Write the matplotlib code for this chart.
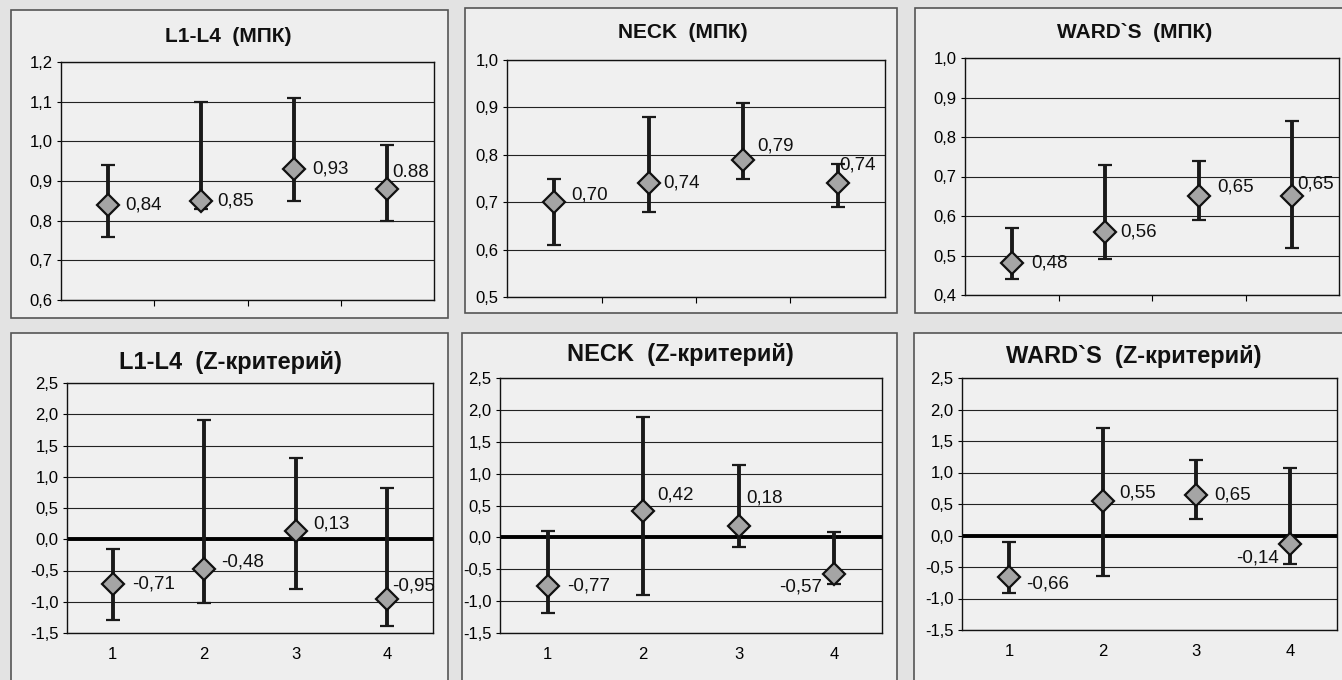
import matplotlib
matplotlib.use("Agg")
import matplotlib.pyplot as plt
from matplotlib.patches import Rectangle
from matplotlib.ticker import FuncFormatter

plt.rcParams['font.family'] = ['Liberation Sans', 'DejaVu Sans']

groups = [1, 2, 3, 4]

# МПК
l1l4_mean = [0.84, 0.85, 0.93, 0.88]
l1l4_low = [0.76, 0.83, 0.85, 0.80]
l1l4_high = [0.94, 1.10, 1.11, 0.99]
l1l4_labels = ['0,84', '0,85', '0,93', '0.88']

neck_mean = [0.70, 0.74, 0.79, 0.74]
neck_low = [0.61, 0.68, 0.75, 0.69]
neck_high = [0.75, 0.88, 0.91, 0.78]
neck_labels = ['0,70', '0,74', '0,79', '0,74']

ward_mean = [0.48, 0.56, 0.65, 0.65]
ward_low = [0.44, 0.49, 0.59, 0.52]
ward_high = [0.57, 0.73, 0.74, 0.84]
ward_labels = ['0,48', '0,56', '0,65', '0,65']

# Z-критерий
l1l4_z_mean = [-0.71, -0.48, 0.13, -0.95]
l1l4_z_low = [-1.29, -1.02, -0.80, -1.38]
l1l4_z_high = [-0.16, 1.91, 1.30, 0.82]
l1l4_z_labels = ['-0,71', '-0,48', '0,13', '-0,95']

neck_z_mean = [-0.77, 0.42, 0.18, -0.57]
neck_z_low = [-1.19, -0.91, -0.15, -0.73]
neck_z_high = [0.10, 1.89, 1.14, 0.09]
neck_z_labels = ['-0,77', '0,42', '0,18', '-0,57']

ward_z_mean = [-0.66, 0.55, 0.65, -0.14]
ward_z_low = [-0.92, -0.65, 0.26, -0.46]
ward_z_high = [-0.11, 1.70, 1.20, 1.07]
ward_z_labels = ['-0,66', '0,55', '0,65', '-0,14']

W, H = 1342, 680
fig = plt.figure(figsize=(W / 100, H / 100), dpi=100, facecolor='#e3e3e3')


def px_rect(x0, y0, x1, y1):
    return [x0 / W, 1 - y1 / H, (x1 - x0) / W, (y1 - y0) / H]


def comma(v, pos):
    return ('%.1f' % v).replace('.', ',')


panels = [
    dict(title='L1-L4  (МПК)', mean=l1l4_mean, low=l1l4_low, high=l1l4_high, labels=l1l4_labels,
         ylim=(0.6, 1.2), step=0.1, ax=(61, 62, 434, 300), frame=(11, 10, 448, 318), tpos=(228, 37),
         offs=[(18, 0, 'left'), (16, 0, 'left'), (18, 0, 'left'), (5, 16, 'left')], z=False),
    dict(title='NECK  (МПК)', mean=neck_mean, low=neck_low, high=neck_high, labels=neck_labels,
         ylim=(0.5, 1.0), step=0.1, ax=(507, 60, 885, 297), frame=(465, 8, 897, 313), tpos=(683, 32),
         offs=[(17, 7, 'left'), (14, 0, 'left'), (14, 14, 'left'), (2, 18, 'left')], z=False),
    dict(title='WARD`S  (МПК)', mean=ward_mean, low=ward_low, high=ward_high, labels=ward_labels,
         ylim=(0.4, 1.0), step=0.1, ax=(965, 58, 1339, 295), frame=(915, 8, 1350, 313), tpos=(1135, 32),
         offs=[(19, 0, 'left'), (15, 0, 'left'), (18, 9, 'left'), (5, 12, 'left')], z=False),
    dict(title='L1-L4  (Z-критерий)', mean=l1l4_z_mean, low=l1l4_z_low, high=l1l4_z_high, labels=l1l4_z_labels,
         ylim=(-1.5, 2.5), step=0.5, ax=(67, 383, 433, 633), frame=(11, 333, 448, 700), tpos=(230, 362),
         offs=[(19, 0, 'left'), (17, 7, 'left'), (18, 7, 'left'), (5, 13, 'left')], z=True),
    dict(title='NECK  (Z-критерий)', mean=neck_z_mean, low=neck_z_low, high=neck_z_high, labels=neck_z_labels,
         ylim=(-1.5, 2.5), step=0.5, ax=(500, 378, 882, 633), frame=(462, 333, 897, 700), tpos=(680, 355),
         offs=[(19, 0, 'left'), (14, 16, 'left'), (8, 28, 'left'), (-12, -13, 'right')], z=True),
    dict(title='WARD`S  (Z-критерий)', mean=ward_z_mean, low=ward_z_low, high=ward_z_high, labels=ward_z_labels,
         ylim=(-1.5, 2.5), step=0.5, ax=(962, 378, 1337, 630), frame=(914, 333, 1350, 700), tpos=(1134, 357),
         offs=[(17, -7, 'left'), (17, 8, 'left'), (18, 0, 'left'), (-11, -14, 'right')], z=True),
]

for p in panels:
    fx0, fy0, fx1, fy1 = p['frame']
    fig.add_artist(Rectangle((fx0 / W, 1 - fy1 / H), (fx1 - fx0) / W, (fy1 - fy0) / H,
                             transform=fig.transFigure, facecolor='#eeeeee',
                             edgecolor='#555555', lw=1.2, zorder=0))
    ax = fig.add_axes(px_rect(*p['ax']))
    ax.set_facecolor('#f0f0f0')
    ax.set_xlim(0.5, 4.5)
    y0, y1 = p['ylim']
    ax.set_ylim(y0, y1)
    n = int(round((y1 - y0) / p['step']))
    yt = [y0 + i * p['step'] for i in range(n + 1)]
    ax.set_yticks(yt)
    ax.yaxis.set_major_formatter(FuncFormatter(comma))
    ax.grid(axis='y', color='#222222', lw=0.8)
    ax.set_axisbelow(True)
    for s in ax.spines.values():
        s.set_color('#111111')
        s.set_linewidth(1.0)
    ax.tick_params(axis='y', labelsize=12, length=3, width=0.8, pad=3)

    if p['z']:
        ax.set_xticks(groups)
        ax.set_xticklabels([str(g) for g in groups])
        ax.tick_params(axis='x', length=0, labelsize=12, pad=10)
        ax.axhline(0, color='black', lw=2.8, zorder=2)
    else:
        ax.set_xticks([1.5, 2.5, 3.5])
        ax.set_xticklabels([])
        ax.tick_params(axis='x', length=4, width=0.8, direction='out')

    yerr = [[m - l for m, l in zip(p['mean'], p['low'])],
            [h - m for m, h in zip(p['mean'], p['high'])]]
    ax.errorbar(groups, p['mean'], yerr=yerr, fmt='D', color='#1a1a1a',
                ecolor='#1a1a1a', elinewidth=2.8, capsize=5, capthick=2.8,
                markersize=11, markerfacecolor='#a5a5a5', markeredgecolor='#111111',
                markeredgewidth=1.6, zorder=3)

    for g, m, lab, (dx, dy, ha) in zip(groups, p['mean'], p['labels'], p['offs']):
        ax.annotate(lab, (g, m), xytext=(dx, dy), textcoords='offset pixels',
                    ha=ha, va='center', fontsize=13.5, color='#111111', zorder=4)

    fig.text(p['tpos'][0] / W, 1 - p['tpos'][1] / H, p['title'], ha='center', va='center',
             fontsize=15 if not p['z'] else 17, fontweight='bold', color='#111111')

fig.savefig('out.png', dpi=100, facecolor=fig.get_facecolor())
